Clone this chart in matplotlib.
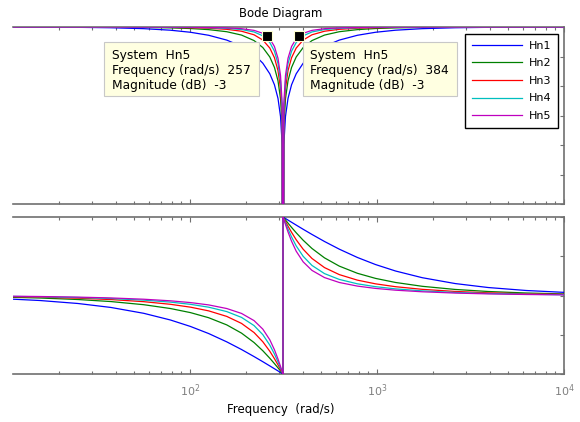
import matplotlib
matplotlib.use("Agg")
import matplotlib.pyplot as plt
from matplotlib.patches import Rectangle
from matplotlib.ticker import LogLocator, NullFormatter

# data (notch filters Hn1..Hn5, centre ~314 rad/s)
freq = [9.87, 15.7, 25.1, 37.7, 56.5, 78.5, 100.5, 125.7, 157.1, 188.5, 219.9, 245.0,
        267.0, 282.7, 295.3, 304.7, 311.0, 314.16,
        314.16, 317.3, 323.9, 334.2, 349.1, 369.6, 402.8, 448.8, 523.6, 628.3, 785.4,
        981.7, 1256.6, 1745.3, 2618.0, 3927.0, 6283.0, 10005.0]

mag_hn1 = [-0.017, -0.044, -0.111, -0.250, -0.563, -1.087, -1.785, -2.804, -4.437, -6.547, -9.312, -12.27,
           -15.86, -19.58, -24.18, -30.33, -39.96, -200,
           -200, -39.96, -30.33, -24.18, -19.58, -15.86, -12.27, -9.312, -6.547, -4.437, -2.804,
           -1.785, -1.087, -0.563, -0.250, -0.111, -0.044, -0.017]
mag_hn2 = [-0.004, -0.011, -0.028, -0.064, -0.148, -0.298, -0.520, -0.888, -1.597, -2.739, -4.600, -6.962,
           -10.16, -13.70, -18.21, -24.32, -33.94, -200,
           -200, -33.94, -24.32, -18.21, -13.70, -10.16, -6.962, -4.600, -2.739, -1.597, -0.888,
           -0.520, -0.298, -0.148, -0.064, -0.028, -0.011, -0.004]
mag_hn3 = [-0.002, -0.005, -0.013, -0.029, -0.066, -0.135, -0.239, -0.417, -0.783, -1.432, -2.641, -4.415,
           -7.135, -10.40, -14.77, -20.82, -30.42, -200,
           -200, -30.42, -20.82, -14.77, -10.40, -7.135, -4.415, -2.641, -1.432, -0.783, -0.417,
           -0.239, -0.135, -0.066, -0.029, -0.013, -0.005, -0.002]
mag_hn4 = [-0.001, -0.003, -0.007, -0.016, -0.037, -0.077, -0.136, -0.240, -0.458, -0.863, -1.676, -2.993,
           -5.245, -8.202, -12.38, -18.35, -27.92, -200,
           -200, -27.92, -18.35, -12.38, -8.202, -5.245, -2.993, -1.676, -0.863, -0.458, -0.240,
           -0.136, -0.077, -0.037, -0.016, -0.007, -0.003, -0.001]
mag_hn5 = [-0.001, -0.002, -0.005, -0.010, -0.024, -0.049, -0.087, -0.155, -0.298, -0.571, -1.144, -2.135,
           -3.981, -6.618, -10.58, -16.44, -25.99, -200,
           -200, -25.99, -16.44, -10.58, -6.618, -3.981, -2.135, -1.144, -0.571, -0.298, -0.155,
           -0.087, -0.049, -0.024, -0.010, -0.005, -0.002, -0.001]

phase_hn1 = [-3.60, -5.73, -9.15, -13.69, -20.41, -28.07, -35.49, -43.60, -53.13, -61.93, -70.01, -75.91,
             -80.73, -83.97, -86.46, -88.26, -89.42, -90,
             90, 89.42, 88.26, 86.46, 83.97, 80.73, 75.91, 70.01, 61.93, 53.13, 43.60,
             35.49, 28.07, 20.41, 13.69, 9.15, 5.73, 3.60]
phase_hn2 = [-1.80, -2.87, -4.60, -6.94, -10.54, -14.93, -19.62, -25.46, -33.69, -43.15, -53.92, -63.34,
             -71.92, -78.08, -82.94, -86.51, -88.85, -90,
             90, 88.85, 86.51, 82.94, 78.08, 71.92, 63.34, 53.92, 43.15, 33.69, 25.46,
             19.62, 14.93, 10.54, 6.94, 4.60, 2.87, 1.80]
phase_hn3 = [-1.20, -1.91, -3.07, -4.64, -7.07, -10.08, -13.37, -17.61, -23.96, -32.01, -42.46, -53.02,
             -63.91, -72.43, -79.48, -84.78, -88.27, -90,
             90, 88.27, 84.78, 79.48, 72.43, 63.91, 53.02, 42.46, 32.01, 23.96, 17.61,
             13.37, 10.08, 7.07, 4.64, 3.07, 1.91, 1.20]
phase_hn4 = [-0.90, -1.44, -2.30, -3.48, -5.31, -7.59, -10.11, -13.39, -18.43, -25.11, -34.46, -44.89,
             -56.86, -67.11, -76.09, -83.05, -87.70, -90,
             90, 87.70, 83.05, 76.09, 67.11, 56.86, 44.89, 34.46, 25.11, 18.43, 13.39,
             10.11, 7.59, 5.31, 3.48, 2.30, 1.44, 0.90]
phase_hn5 = [-0.72, -1.15, -1.84, -2.79, -4.26, -6.09, -8.12, -10.78, -14.93, -20.56, -28.77, -38.55,
             -50.78, -62.18, -72.80, -81.34, -87.12, -90,
             90, 87.12, 81.34, 72.80, 62.18, 50.78, 38.55, 28.77, 20.56, 14.93, 10.78,
             8.12, 6.09, 4.26, 2.79, 1.84, 1.15, 0.72]

names = ["Hn1", "Hn2", "Hn3", "Hn4", "Hn5"]
colors = ["#0000ff", "#008000", "#ff0000", "#00bfbf", "#bf00bf"]
mags = [mag_hn1, mag_hn2, mag_hn3, mag_hn4, mag_hn5]
phases = [phase_hn1, phase_hn2, phase_hn3, phase_hn4, phase_hn5]

# data tips (-3 dB points of Hn5)
tip_freq = [257, 384]
tip_mag = [-3, -3]

W, H = 580, 422
fig = plt.figure(figsize=(W / 100, H / 100), dpi=100)
fig.patch.set_facecolor("white")

ax1 = fig.add_axes([13 / W, (H - 204) / H, 551 / W, 177 / H])
ax2 = fig.add_axes([13 / W, (H - 374) / H, 551 / W, 157 / H])

grey = "#707070"
for ax in (ax1, ax2):
    ax.set_xscale("log")
    ax.set_xlim(11.3, 1e4)
    for side in ("top", "bottom", "right"):
        ax.spines[side].set_color(grey)
        ax.spines[side].set_linewidth(1.2)
    ax.spines["left"].set_visible(False)
    ax.xaxis.set_major_locator(LogLocator(base=10))
    ax.xaxis.set_minor_locator(LogLocator(base=10, subs=range(2, 10)))
    ax.xaxis.set_minor_formatter(NullFormatter())
    ax.tick_params(axis="x", which="both", direction="in", top=True, bottom=True,
                   colors=grey, width=0.8)
    ax.tick_params(axis="x", which="major", length=3.5)
    ax.tick_params(axis="x", which="minor", length=2.5)
    ax.tick_params(axis="y", which="both", direction="in", left=False, right=True,
                   labelleft=False, labelright=False, colors=grey, width=0.8, length=3)

for name, c, m, p in zip(names, colors, mags, phases):
    ax1.plot(freq, m, color=c, lw=0.9, label=name, zorder=3)
    ax2.plot(freq, p, color=c, lw=0.9, zorder=3)

ax1.set_ylim(-60, 0)
ax1.set_yticks(range(-60, 1, 10))
ax1.tick_params(axis="x", labelbottom=False)

ax2.set_ylim(-90, 90)
ax2.set_yticks([-90, -45, 0, 45, 90])
ax2.set_xticks([100, 1000, 10000])
ax2.set_xticklabels([r"$10^{2}$", r"$10^{3}$", r"$10^{4}$"])
ax2.tick_params(axis="x", which="major", labelsize=8, labelcolor="#808080", pad=6)

# legend
leg = ax1.legend(loc="upper right", bbox_to_anchor=(0.989, 0.96), borderaxespad=0,
                 fontsize=8, handlelength=4.5, handletextpad=0.6, labelspacing=0.68,
                 borderpad=0.6, fancybox=False, framealpha=1, edgecolor="black")
leg.get_frame().set_linewidth(1.0)
leg.set_zorder(6)

# data tip boxes
def fx(px):
    return (px - 13) / 551

def fy(py):
    return (204 - py) / 177

tip_boxes = [(104, 259), (303, 457)]
for (x0, x1), f in zip(tip_boxes, tip_freq):
    ax1.add_patch(Rectangle((fx(x0), fy(96)), fx(x1) - fx(x0), fy(42) - fy(96),
                            transform=ax1.transAxes, facecolor="#ffffe1",
                            edgecolor="#c8c8c8", lw=0.8, zorder=4, clip_on=False))
    lines = ["System  Hn5", "Frequency (rad/s)  %d" % f, "Magnitude (dB)  -3"]
    for txt, by in zip(lines, (58.7, 74, 88.7)):
        ax1.text(fx(x0 + 7.5), fy(by), txt, transform=ax1.transAxes, fontsize=8.8,
                 ha="left", va="baseline", color="black", zorder=5)

ax1.plot(tip_freq, tip_mag, ls="none", marker="s", ms=6.8, mfc="black",
         mec="#ffffd0", mew=0.8, zorder=7, clip_on=False)

fig.text(281 / W, 1 - 13 / H, "Bode Diagram", ha="center", va="center", fontsize=8.4)
fig.text(281 / W, 1 - 410 / H, "Frequency  (rad/s)", ha="center", va="center", fontsize=8.5)

fig.savefig("out.png", dpi=100)
